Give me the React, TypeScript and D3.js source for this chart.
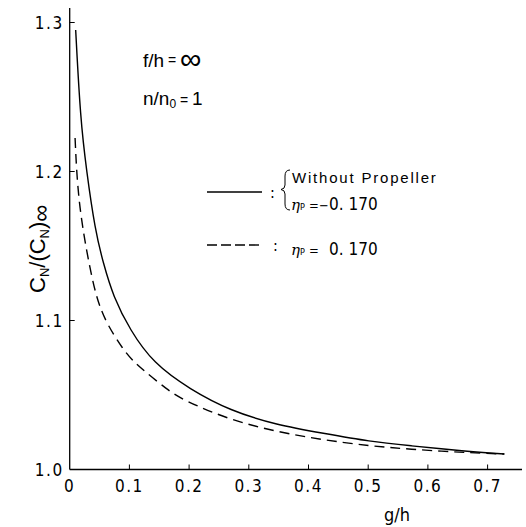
import React from "react";
import * as d3 from "d3";

// solid: without propeller / eta_P = -0.170
const solidG = [0.01, 0.018, 0.028, 0.0425, 0.0563, 0.073, 0.101, 0.14, 0.2015, 0.2686, 0.3467, 0.4248, 0.503, 0.57, 0.654, 0.728];
const solidV = [1.295, 1.235, 1.201, 1.1607, 1.1384, 1.116, 1.0936, 1.0713, 1.0538, 1.0395, 1.0299, 1.0243, 1.0187, 1.016, 1.0126, 1.0104];
// dashed: eta_P = 0.170
const dashG = [0.009, 0.014, 0.034, 0.045, 0.051, 0.062, 0.0898, 0.107, 0.123, 0.1625, 0.19, 0.2686, 0.3467, 0.4248, 0.503, 0.57, 0.654, 0.728];
const dashV = [1.2225, 1.179, 1.134, 1.116, 1.109, 1.098, 1.0802, 1.0725, 1.0668, 1.0538, 1.0466, 1.0332, 1.0254, 1.0198, 1.0158, 1.0136, 1.0115, 1.0104];

const xTicks = [0, 0.1, 0.2, 0.3, 0.4, 0.5, 0.6, 0.7];
const yTicks = [1.0, 1.1, 1.2, 1.3];

export default function App() {
  const width = 526;
  const height = 527;
  const x = d3.scaleLinear().domain([0, 0.1]).range([69.7, 129.4]);
  const y = d3.scaleLinear().domain([1.0, 1.3]).range([469.5, 22.5]);
  const font = "'Liberation Sans Narrow', 'DejaVu Sans Condensed', 'Liberation Sans', sans-serif";

  const line = d3
    .line<[number, number]>()
    .x((d) => x(d[0]))
    .y((d) => y(d[1]))
    .curve(d3.curveBasis);

  const solid = solidG.map((g, i) => [g, solidV[i]] as [number, number]);
  const dashed = dashG.map((g, i) => [g, dashV[i]] as [number, number]);

  const x0 = x(0);
  const y0 = y(1.0);

  return (
    <svg
      width={width}
      height={height}
      style={{ position: "absolute", left: 0, top: 0, background: "white" }}
      fontFamily={font}
    >
      {/* axes */}
      <line x1={x0} x2={x0} y1={8} y2={y0} stroke="black" strokeWidth={1.3} />
      <line x1={x0} x2={522} y1={y0} y2={y0} stroke="black" strokeWidth={1.3} />

      {xTicks.map((t) => (
        <g key={t}>
          {t > 0 && <line x1={x(t)} x2={x(t)} y1={y0} y2={y0 - 5} stroke="black" />}
          <text x={x(t)} y={y0 + 22} textAnchor="middle" fontSize={17} letterSpacing={1.5}>
            {t === 0 ? "0" : d3.format(".1f")(t)}
          </text>
        </g>
      ))}
      {yTicks.map((t) => (
        <g key={t}>
          {t > 1 && <line x1={x0} x2={x0 + 5} y1={y(t)} y2={y(t)} stroke="black" />}
          <text x={x0 - 6} y={y(t) + 6} textAnchor="end" fontSize={17} letterSpacing={1.5}>
            {d3.format(".1f")(t)}
          </text>
        </g>
      ))}

      {/* axis labels */}
      <text x={384} y={521} fontSize={18}>g/h</text>
      <text transform="translate(45,293) rotate(-90)" fontSize={22} fontFamily="'Liberation Sans', sans-serif">
        C<tspan fontSize={13} dy={4}>N</tspan>
        <tspan dy={-4}>/(C</tspan>
        <tspan fontSize={13} dy={4}>N</tspan>
        <tspan dy={-4}>)</tspan>
        <tspan dy={4} fontSize={24}>∞</tspan>
      </text>

      {/* curves */}
      <path d={line(solid) || ""} fill="none" stroke="black" strokeWidth={1.4} />
      <path d={line(dashed) || ""} fill="none" stroke="black" strokeWidth={1.4} strokeDasharray="10,6" />

      {/* annotations */}
      <text x={143} y={67} fontSize={19} fontFamily="'Liberation Sans', sans-serif">
        f/h<tspan fontSize={14} dy={-2}> = </tspan>
        <tspan fontSize={30} dy={4}>∞</tspan>
      </text>
      <text x={143} y={105} fontSize={19} fontFamily="'Liberation Sans', sans-serif">
        n/n<tspan fontSize={12} dy={3}>0</tspan>
        <tspan dy={-3} fontSize={14}> = </tspan>
        <tspan fontSize={19}>1</tspan>
      </text>

      {/* legend */}
      <line x1={207} x2={262} y1={192} y2={192} stroke="black" strokeWidth={1.4} />
      <text x={270} y={198} fontSize={16}>:</text>
      <path
        d="M290,170 Q285,170 285,176 L285,185 Q285,189 281,189.5 Q285,190 285,194 L285,204 Q285,210 290,210"
        fill="none"
        stroke="black"
        strokeWidth={1}
      />
      <text x={292} y={183} fontSize={15} letterSpacing={1.8} fontFamily="'Liberation Sans', sans-serif">
        Without Propeller
      </text>
      <text x={291} y={210} fontSize={17}>
        <tspan fontStyle="italic" fontFamily="'DejaVu Serif', serif" fontSize={15}>η</tspan>
        <tspan fontSize={9}>P</tspan>
        <tspan x={309} fontSize={13}>=</tspan>
        <tspan x={319} fontSize={13}>−</tspan>
        <tspan x={329}>0. 170</tspan>
      </text>

      <line x1={207} x2={262} y1={245} y2={245} stroke="black" strokeWidth={1.4} strokeDasharray="10,4" />
      <text x={273} y={251} fontSize={16}>:</text>
      <text x={291} y={255} fontSize={17}>
        <tspan fontStyle="italic" fontFamily="'DejaVu Serif', serif" fontSize={15}>η</tspan>
        <tspan fontSize={9}>P</tspan>
        <tspan x={309} fontSize={13}>=</tspan>
        <tspan x={329}>0. 170</tspan>
      </text>
    </svg>
  );
}
